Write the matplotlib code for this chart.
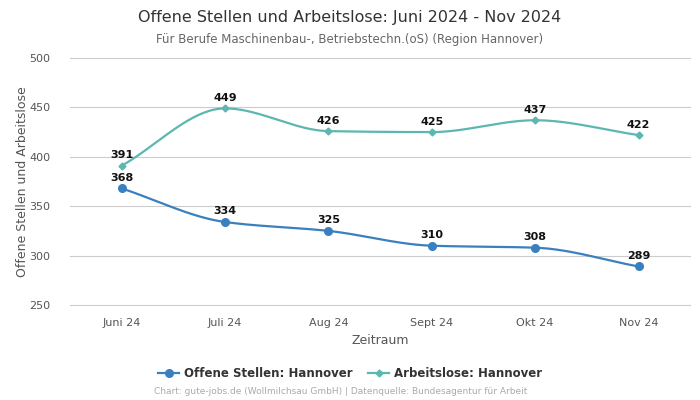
import numpy as np
import matplotlib
matplotlib.use("Agg")
import matplotlib.pyplot as plt

months = ["Juni 24", "Juli 24", "Aug 24", "Sept 24", "Okt 24", "Nov 24"]
offene = [368, 334, 325, 310, 308, 289]
arbeitslose = [391, 449, 426, 425, 437, 422]

C_BLUE = "#3a80be"
C_TEAL = "#5bb7b0"


def monotone(x, y, n=40):
    x = np.asarray(x, float)
    y = np.asarray(y, float)
    h = np.diff(x)
    d = np.diff(y) / h
    m = np.zeros_like(y)
    m[0], m[-1] = d[0], d[-1]
    for i in range(1, len(y) - 1):
        if d[i - 1] * d[i] <= 0:
            m[i] = 0
        else:
            w1 = 2 * h[i] + h[i - 1]
            w2 = h[i] + 2 * h[i - 1]
            m[i] = (w1 + w2) / (w1 / d[i - 1] + w2 / d[i])
    xs, ys = [], []
    for i in range(len(x) - 1):
        t = np.linspace(0, 1, n)
        h00 = 2 * t**3 - 3 * t**2 + 1
        h10 = t**3 - 2 * t**2 + t
        h01 = -2 * t**3 + 3 * t**2
        h11 = t**3 - t**2
        xs.append(x[i] + t * h[i])
        ys.append(h00 * y[i] + h10 * h[i] * m[i] + h01 * y[i + 1] + h11 * h[i] * m[i + 1])
    return np.concatenate(xs), np.concatenate(ys)


fig = plt.figure(figsize=(7, 4), dpi=100)
ax = fig.add_axes([0.1, 0.2375, 0.886, 0.6175])

xi = np.arange(len(months))
for vals, col, mk, ms, lab in [
    (offene, C_BLUE, "o", 5.5, "Offene Stellen: Hannover"),
    (arbeitslose, C_TEAL, "D", 3.5, "Arbeitslose: Hannover"),
]:
    sx, sy = monotone(xi, vals)
    ax.plot(sx, sy, color=col, lw=1.6, zorder=3)
    ax.plot(xi, vals, linestyle="none", marker=mk, ms=ms, color=col, zorder=4)
    ax.plot([], [], color=col, marker=mk, ms=ms, lw=1.6, label=lab)
    for x, v in zip(xi, vals):
        ax.annotate(str(v), (x, v), xytext=(0, 4), textcoords="offset points",
                    ha="center", va="bottom", fontsize=8, fontweight="bold", color="#111111", zorder=5)

ax.set_xlim(-0.5, 5.5)
ax.set_ylim(250, 500)
ax.set_yticks([250, 300, 350, 400, 450, 500])
ax.set_xticks(xi)
ax.set_xticklabels(months)
ax.grid(axis="y", color="#cccccc", lw=0.8)
for gl in ax.get_ygridlines():
    gl.set_clip_on(False)
ax.set_axisbelow(True)
for s in ax.spines.values():
    s.set_visible(False)
ax.tick_params(axis="both", length=0, labelsize=8, labelcolor="#555555")
ax.tick_params(axis="x", pad=9)
ax.tick_params(axis="y", pad=14)
ax.set_xlabel("Zeitraum", fontsize=9, color="#555555", labelpad=5)
ax.set_ylabel("Offene Stellen und Arbeitslose", fontsize=9, color="#555555", labelpad=0.5)

fig.text(0.5, 0.957, "Offene Stellen und Arbeitslose: Juni 2024 - Nov 2024",
         ha="center", va="center", fontsize=11.5, color="#333333")
fig.text(0.5, 0.902, "Für Berufe Maschinenbau-, Betriebstechn.(oS) (Region Hannover)",
         ha="center", va="center", fontsize=8.5, color="#666666")

fig.legend(loc="center", bbox_to_anchor=(0.5, 0.066), ncol=2, frameon=False,
           prop={"weight": "bold", "size": 8.5}, labelcolor="#333333",
           handlelength=1.8, columnspacing=1.3, handletextpad=0.4)
fig.text(0.486, 0.02, "Chart: gute-jobs.de (Wollmilchsau GmbH) | Datenquelle: Bundesagentur für Arbeit",
         ha="center", va="center", fontsize=6.5, color="#aaaaaa")

fig.savefig("out.png", dpi=100)
